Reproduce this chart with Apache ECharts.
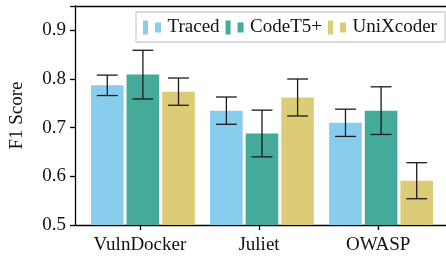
<!DOCTYPE html>
<html>
<head>
<meta charset="utf-8">
<script src="https://cdn.jsdelivr.net/npm/echarts@6/dist/echarts.min.js"></script>
<style>
  html, body { margin: 0; padding: 0; background: #fff; }
  #chart { width: 446px; height: 260px; }
</style>
</head>
<body>
<div id="chart"></div>
<script>
// 数据
const categories = ['VulnDocker', 'Juliet', 'OWASP'];
const seriesNames = ['Traced', 'CodeT5+', 'UniXcoder'];
const tracedF1 = [0.787, 0.735, 0.710];
const tracedErr = [0.021, 0.028, 0.028];
const codet5F1 = [0.809, 0.688, 0.735];
const codet5Err = [0.050, 0.048, 0.049];
const unixcoderF1 = [0.774, 0.762, 0.591];
const unixcoderErr = [0.028, 0.038, 0.037];
const yTicks = [0.5, 0.6, 0.7, 0.8, 0.9];

const colors = ['#88CCEE', '#44AA99', '#DDCC77'];
const FONT = 'Liberation Serif';
const FS = 19;
const BAR_W = 0.274;   // 柱宽（x轴单位）
const CAP_W = 0.175;   // 误差帽宽度

// 柱子 + 误差线，全部用 api.coord 换算
function barWithError(name, values, errors, color, shift) {
    return {
        name: name,
        type: 'custom',
        itemStyle: { color: color },
        encode: { x: 0, y: 1 },
        data: values.map((v, i) => [i, v, errors[i]]),
        renderItem: function(params, api) {
            const x = api.value(0) + shift;
            const v = api.value(1);
            const e = api.value(2);
            const base = api.coord([x, yTicks[0]]);
            const top = api.coord([x, v]);
            const hi = api.coord([x, v + e]);
            const lo = api.coord([x, v - e]);
            const w = api.size([BAR_W, 0])[0];
            const cap = api.size([CAP_W, 0])[0] / 2;
            const ink = { stroke: '#1a1a1a', lineWidth: 1.3 };
            return {
                type: 'group',
                children: [
                    { type: 'rect', shape: { x: top[0] - w / 2, y: top[1], width: w, height: base[1] - top[1] }, style: { fill: color } },
                    { type: 'line', shape: { x1: hi[0], y1: hi[1], x2: lo[0], y2: lo[1] }, style: ink },
                    { type: 'line', shape: { x1: hi[0] - cap, y1: hi[1], x2: hi[0] + cap, y2: hi[1] }, style: ink },
                    { type: 'line', shape: { x1: lo[0] - cap, y1: lo[1], x2: lo[0] + cap, y2: lo[1] }, style: ink }
                ]
            };
        }
    };
}

const chart = echarts.init(document.getElementById('chart'));
const axisInk = { color: '#000', width: 1.3 };

chart.setOption({
    animation: false,
    textStyle: { fontFamily: FONT },
    grid: { left: 71, right: 0, top: 6, bottom: 35 },
    legend: {
        data: seriesNames,
        left: 136,
        top: 12,
        width: 300,
        padding: [6, 8, 5, 7],
        itemGap: 6,
        itemWidth: 19,
        itemHeight: 14,
        icon: 'path://M0,0h5v14h-5z M12,2h6v10h-6z',
        backgroundColor: '#fff',
        borderColor: '#d0d0d0',
        borderWidth: 1.3,
        textStyle: { fontFamily: FONT, fontSize: FS, color: '#111', padding: [0, 0, 0, 1] }
    },
    xAxis: [{
        type: 'value',
        min: -0.545,
        max: 2.57,
        axisLine: { onZero: false, lineStyle: axisInk },
        splitLine: { show: false },
        axisTick: { show: true, customValues: [0, 1, 2], length: 5, lineStyle: axisInk },
        axisLabel: {
            customValues: [0, 1, 2],
            formatter: v => categories[Math.round(v)],
            fontFamily: FONT, fontSize: FS, color: '#111', margin: 11
        }
    }, {
        type: 'value',
        position: 'top',
        min: -0.545,
        max: 2.57,
        axisLine: { show: true, onZero: false, lineStyle: axisInk },
        splitLine: { show: false },
        axisTick: { show: false },
        axisLabel: { show: false }
    }],
    yAxis: {
        type: 'value',
        min: 0.5,
        max: 0.95,
        interval: 0.1,
        name: 'F1 Score',
        nameLocation: 'middle',
        nameGap: 48,
        nameTextStyle: { fontFamily: FONT, fontSize: FS, color: '#111' },
        axisLine: { show: true, onZero: false, lineStyle: axisInk },
        splitLine: { show: false },
        axisTick: { show: true, length: 5, lineStyle: axisInk },
        axisLabel: {
            fontFamily: FONT, fontSize: FS, color: '#111', margin: 9,
            formatter: v => (v > 0.94 ? '' : v.toFixed(1))
        }
    },
    series: [
        barWithError(seriesNames[0], tracedF1, tracedErr, colors[0], -0.274),
        barWithError(seriesNames[1], codet5F1, codet5Err, colors[1], 0.025),
        barWithError(seriesNames[2], unixcoderF1, unixcoderErr, colors[2], 0.324)
    ]
});
</script>
</body>
</html>
